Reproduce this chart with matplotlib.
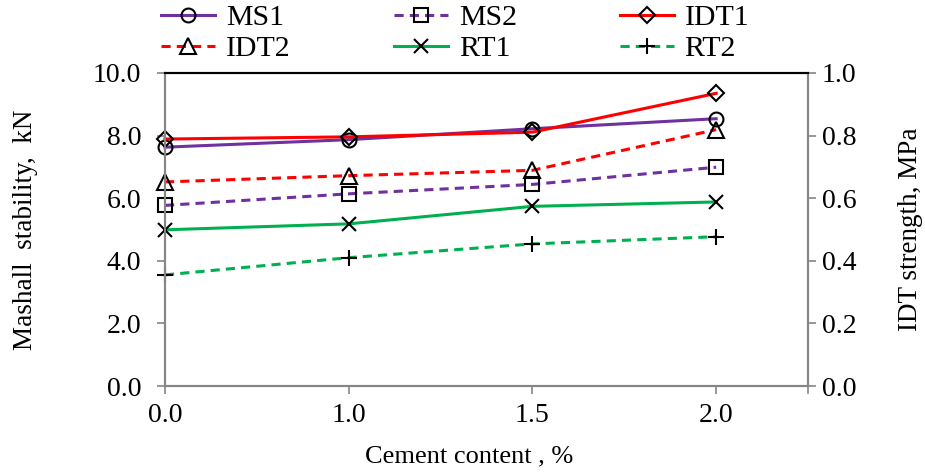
import matplotlib
matplotlib.use("Agg")
import matplotlib.pyplot as plt

plt.rcParams['font.family'] = ['Liberation Serif', 'DejaVu Serif']

categories = ["0.0", "1.0", "1.5", "2.0"]
ms1 = [7.63, 7.87, 8.22, 8.54]
ms2 = [5.77, 6.14, 6.44, 6.99]
idt1 = [0.789, 0.796, 0.811, 0.935]
idt2 = [0.652, 0.672, 0.689, 0.819]
rt1 = [0.499, 0.518, 0.574, 0.588]
rt2 = [0.355, 0.410, 0.454, 0.477]

purple = "#7030A0"
red = "#FF0000"
green = "#00B050"
gray = "#868686"

fig = plt.figure(figsize=(9.25, 4.72), dpi=100)
ax = fig.add_axes([165/925, 1-386/472, (808-165)/925, (386-73)/472])
ax2 = ax.twinx()

x = list(range(len(categories)))
mk = dict(markerfacecolor='none', markeredgecolor='black', markeredgewidth=1.5,
          markersize=10, clip_on=False)
lw = 2.2
dash = (0, (3, 2))

h1, = ax.plot(x, ms1, color=purple, lw=lw, marker='o', label='MS1', **mk)
h2, = ax.plot(x, ms2, color=purple, lw=lw, ls=dash, marker='s', label='MS2', **mk)
h3, = ax2.plot(x, idt1, color=red, lw=lw, marker='D', label='IDT1', **dict(mk, markersize=8))
h4, = ax2.plot(x, idt2, color=red, lw=lw, ls=dash, marker='^', label='IDT2', **dict(mk, markersize=11))
h5, = ax2.plot(x, rt1, color=green, lw=lw, marker='x', label='RT1', **mk)
h6, = ax2.plot(x, rt2, color=green, lw=lw, ls=dash, marker='+', label='RT2', **dict(mk, markersize=12))

ax.set_xlim(0, 3.5)
ax.set_ylim(0, 10)
ax2.set_ylim(0, 1.0)
ax.set_yticks([0, 2, 4, 6, 8, 10])
ax.set_yticklabels([f"{v:.1f}" for v in [0, 2, 4, 6, 8, 10]])
ax2.set_yticks([0, 0.2, 0.4, 0.6, 0.8, 1.0])
ax2.set_yticklabels([f"{v:.1f}" for v in [0, 0.2, 0.4, 0.6, 0.8, 1.0]])
ax.set_xticks([0, 1, 2, 3, 3.5])
ax.set_xticklabels(categories + [""])

for a in (ax, ax2):
    for s in ('left', 'right', 'bottom'):
        a.spines[s].set_color(gray)
        a.spines[s].set_linewidth(1.5)
    a.spines['top'].set_color('black')
    a.spines['top'].set_linewidth(1.5)
    a.tick_params(direction='out', length=6, width=1.2, color=gray, labelsize=20, pad=6)
ax.tick_params(axis='y', pad=11)
ax2.tick_params(axis='y', pad=4)

ax.set_ylabel("Mashall  stability,  kN", fontsize=19.5)
ax.yaxis.set_label_coords(-0.198, 0.5)
ax2.set_ylabel("IDT strength, MPa", fontsize=19.5)
ax2.yaxis.set_label_coords(1.140, 0.5)
ax.set_xlabel("Cement content , %", fontsize=19)
ax.xaxis.set_label_coords(0.473, -0.19)

handles = [h1, h4, h2, h5, h3, h6]
leg = fig.legend(handles=handles, labels=[h.get_label() for h in handles],
                 ncol=3, loc='upper left', bbox_to_anchor=(160/925, 1 - 3/472),
                 frameon=False, fontsize=21.5, handlelength=1.8, handletextpad=0.37,
                 columnspacing=3.45, labelspacing=0.14, borderaxespad=0.0,
                 borderpad=0.05)

fig.savefig("out.png", dpi=100)
